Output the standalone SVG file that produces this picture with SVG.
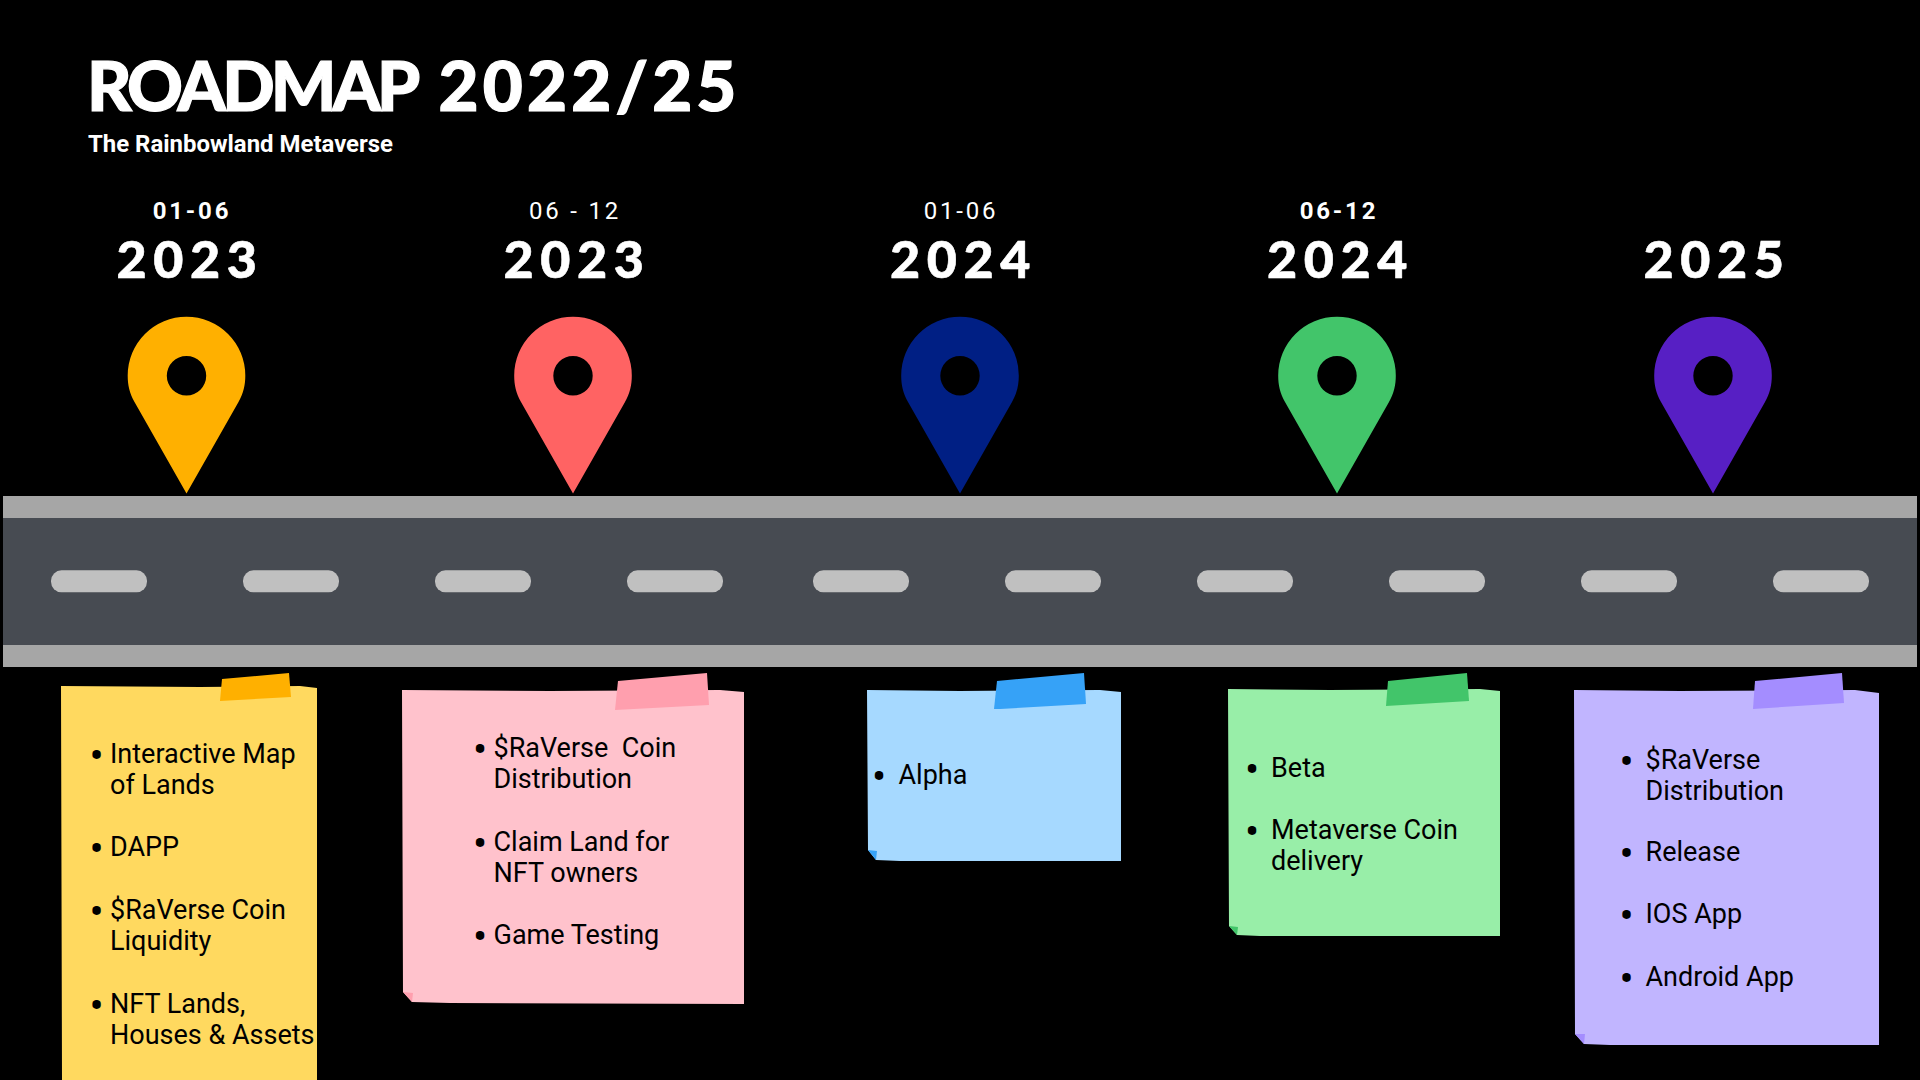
<svg xmlns="http://www.w3.org/2000/svg" xmlns:xlink="http://www.w3.org/1999/xlink" width="1920" height="1080" viewBox="0 0 1920 1080">
<style>
.title{font-family:"Lato","Liberation Sans",sans-serif;font-weight:900;font-size:69px;fill:#fff;stroke:#fff;stroke-width:1.2px}
.sub{font-family:"Roboto","Liberation Sans",sans-serif;font-weight:700;font-size:24px;fill:#fff}
.date{font-family:"Roboto","Liberation Sans",sans-serif;font-size:24px;letter-spacing:2.8px;fill:#fff;text-anchor:middle}
.b{font-weight:700}
.year{font-family:"Lato","Liberation Sans",sans-serif;font-weight:900;font-size:52px;letter-spacing:6.6px;fill:#fff;stroke:#fff;stroke-width:.6px}
.t{font-family:"Roboto","Liberation Sans",sans-serif;font-size:27px;fill:#000}
.bu{text-anchor:middle;font-size:42px}
.dash{fill:#c0c0c0}
</style>
<defs>
<path id="pin" fill-rule="evenodd" d="M0 493.5 L-52 402 C-57 393 -58.8 385 -58.8 375.5 A58.8 58.8 0 0 1 58.8 375.5 C58.8 385 57 393 52 402 Z M19.7 375.7 A19.7 19.7 0 1 0 -19.7 375.7 A19.7 19.7 0 1 0 19.7 375.7 Z"/>
<rect id="dash" width="96" height="22" y="570.3" rx="10.5"/>
</defs>
<rect width="1920" height="1080" fill="#000"/>
<g id="header">
<text class="title" y="110.5"><tspan x="87" letter-spacing="-3.9">ROADMAP </tspan><tspan x="438.5" letter-spacing="4.2">2022/25</tspan></text>
<text class="sub" x="88" y="152" textLength="305" lengthAdjust="spacingAndGlyphs">The Rainbowland Metaverse</text>
</g>
<g id="road">
<rect x="3" y="496" width="1914" height="22" fill="#a6a6a6"/>
<rect x="3" y="518" width="1914" height="127" fill="#474b52"/>
<rect x="3" y="645" width="1914" height="22" fill="#a6a6a6"/>
<g class="dash">
<use xlink:href="#dash" href="#dash" x="51"/><use xlink:href="#dash" href="#dash" x="243"/><use xlink:href="#dash" href="#dash" x="435"/><use xlink:href="#dash" href="#dash" x="627"/><use xlink:href="#dash" href="#dash" x="813"/><use xlink:href="#dash" href="#dash" x="1005"/><use xlink:href="#dash" href="#dash" x="1197"/><use xlink:href="#dash" href="#dash" x="1389"/><use xlink:href="#dash" href="#dash" x="1581"/><use xlink:href="#dash" href="#dash" x="1773"/>
</g>
</g>
<g id="connectors"></g>
<g id="m1">
<text class="date b" x="192" y="219">01-06</text>
<text class="year" x="116.5" y="278">2023</text>
<use xlink:href="#pin" href="#pin" x="186.5" fill="#ffb000"/>
</g>
<g id="m2">
<text class="date" x="575" y="219">06 - 12</text>
<text class="year" x="503.5" y="278">2023</text>
<use xlink:href="#pin" href="#pin" x="573" fill="#ff6363"/>
</g>
<g id="m3">
<text class="date" x="961" y="219">01-06</text>
<text class="year" x="890" y="278">2024</text>
<use xlink:href="#pin" href="#pin" x="960" fill="#001f84"/>
</g>
<g id="m4">
<text class="date b" x="1339" y="219">06-12</text>
<text class="year" x="1267" y="278">2024</text>
<use xlink:href="#pin" href="#pin" x="1337" fill="#42c56a"/>
</g>
<g id="m5">
<text class="year" x="1643.5" y="278">2025</text>
<use xlink:href="#pin" href="#pin" x="1713" fill="#571fc4"/>
</g>
<g id="note1">
<path d="M61 686 L200 687 L300 686 L317 688 L317 1080 L62 1080 Z" fill="#ffd95f"/>
<path d="M222 679 L289 673 L291 697 L220 701 Z" fill="#ffb000"/>
<text class="t"><tspan class="bu" x="96.5" y="770">•</tspan><tspan x="110" y="763">Interactive Map</tspan><tspan x="110" y="794">of Lands</tspan>
<tspan class="bu" x="96.5" y="863">•</tspan><tspan x="110" y="856">DAPP</tspan>
<tspan class="bu" x="96.5" y="926">•</tspan><tspan x="110" y="919">$RaVerse Coin</tspan><tspan x="110" y="950">Liquidity</tspan>
<tspan class="bu" x="96.5" y="1020">•</tspan><tspan x="110" y="1013">NFT Lands,</tspan><tspan x="110" y="1044">Houses &amp; Assets</tspan></text>
</g>
<g id="note2">
<path d="M402 690 L550 691 L720 690 L744 692 L744 1004 L450 1003 L412 1002 L403 992 Z" fill="#ffc2cc"/>
<path d="M403 992 L413 993 L412 1002 Z" fill="#ff9fae"/>
<path d="M618 681 L707 673 L709 705 L615 710 Z" fill="#ff9fae"/>
<text class="t"><tspan class="bu" x="480" y="763.5">•</tspan><tspan x="493.5" y="756.5">$RaVerse&#160; Coin</tspan><tspan x="493.5" y="787.5">Distribution</tspan>
<tspan class="bu" x="480" y="857.5">•</tspan><tspan x="493.5" y="850.5">Claim Land for</tspan><tspan x="493.5" y="881.5">NFT owners</tspan>
<tspan class="bu" x="480" y="951">•</tspan><tspan x="493.5" y="944">Game Testing</tspan></text>
</g>
<g id="note3">
<path d="M867 690 L960 691 L1100 690 L1121 692 L1121 861 L900 861 L876 860 L868 850 Z" fill="#a6d9ff"/>
<path d="M868 850 L877 851 L876 860 Z" fill="#36a2f7"/>
<path d="M997 681 L1084 673 L1086 704 L1000 709 L994 709 Z" fill="#36a2f7"/>
<text class="t"><tspan class="bu" x="879" y="791">•</tspan><tspan x="898.5" y="784">Alpha</tspan></text>
</g>
<g id="note4">
<path d="M1228 689 L1330 690 L1480 689 L1500 691 L1500 936 L1260 936 L1237 935 L1229 926 Z" fill="#98eea8"/>
<path d="M1229 926 L1238 927 L1237 935 Z" fill="#42c56a"/>
<path d="M1388 681 L1467 673 L1469 701 L1386 706 Z" fill="#42c56a"/>
<text class="t"><tspan class="bu" x="1252" y="784">•</tspan><tspan x="1271" y="777">Beta</tspan>
<tspan class="bu" x="1252" y="846">•</tspan><tspan x="1271" y="839">Metaverse Coin</tspan><tspan x="1271" y="870">delivery</tspan></text>
</g>
<g id="note5">
<path d="M1574 690 L1680 691 L1855 690 L1879 693 L1879 1045 L1610 1045 L1584 1044 L1575 1034 Z" fill="#c1b5ff"/>
<path d="M1575 1034 L1585 1034 L1584 1044 Z" fill="#a48dff"/>
<path d="M1755 681 L1842 673 L1844 703 L1753 709 Z" fill="#a48dff"/>
<text class="t"><tspan class="bu" x="1626.5" y="775.5">•</tspan><tspan x="1645.5" y="768.5">$RaVerse</tspan><tspan x="1645.5" y="799.5">Distribution</tspan>
<tspan class="bu" x="1626.5" y="868">•</tspan><tspan x="1645.5" y="861">Release</tspan>
<tspan class="bu" x="1626.5" y="930">•</tspan><tspan x="1645.5" y="923">IOS App</tspan>
<tspan class="bu" x="1626.5" y="992.5">•</tspan><tspan x="1645.5" y="985.5">Android App</tspan></text>
</g>
</svg>
